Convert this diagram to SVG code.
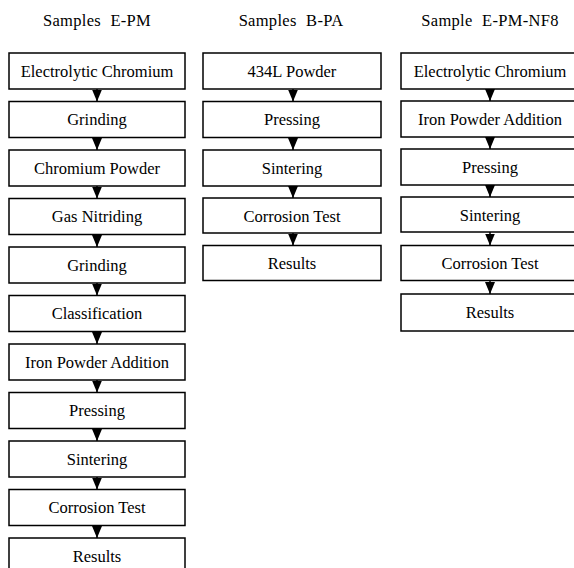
<svg xmlns="http://www.w3.org/2000/svg" width="574" height="568" viewBox="0 0 574 568">
<style>
.box{fill:#fff;stroke:#000;stroke-width:1.5}
.lbl{font-family:"Liberation Serif","Times New Roman",serif;font-size:16.5px;fill:#000;text-anchor:middle}
.ttl{font-family:"Liberation Serif","Times New Roman",serif;font-size:16.5px;fill:#000;text-anchor:middle;word-spacing:5px;letter-spacing:0.3px}
.con{stroke:#000;stroke-width:1.5;fill:none}
</style>
<defs>
<marker id="ah" viewBox="0 0 12 10" markerUnits="userSpaceOnUse" markerWidth="12" markerHeight="10" refX="12" refY="5" orient="auto">
<path d="M0,0 L12,5 L0,10 z" fill="#000"/>
</marker>
</defs>
<rect width="574" height="568" fill="#fff"/>
<g id="titles">
<text class="ttl" x="97" y="26">Samples E-PM</text>
<text class="ttl" x="291" y="26">Samples B-PA</text>
<text class="ttl" x="490" y="26">Sample E-PM-NF8</text>
</g>
<g id="col1">
<g id="c1n1"><rect class="box" x="9" y="53" width="176" height="36"/><text class="lbl" x="97" y="76.5">Electrolytic Chromium</text></g>
<g id="c1n2"><rect class="box" x="9" y="101.5" width="176" height="36"/><text class="lbl" x="97" y="125">Grinding</text></g>
<g id="c1n3"><rect class="box" x="9" y="150" width="176" height="36"/><text class="lbl" x="97" y="173.5">Chromium Powder</text></g>
<g id="c1n4"><rect class="box" x="9" y="198.5" width="176" height="36"/><text class="lbl" x="97" y="222">Gas Nitriding</text></g>
<g id="c1n5"><rect class="box" x="9" y="247" width="176" height="36"/><text class="lbl" x="97" y="270.5">Grinding</text></g>
<g id="c1n6"><rect class="box" x="9" y="295.5" width="176" height="36"/><text class="lbl" x="97" y="319">Classification</text></g>
<g id="c1n7"><rect class="box" x="9" y="344" width="176" height="36"/><text class="lbl" x="97" y="367.5">Iron Powder Addition</text></g>
<g id="c1n8"><rect class="box" x="9" y="392.5" width="176" height="36"/><text class="lbl" x="97" y="416">Pressing</text></g>
<g id="c1n9"><rect class="box" x="9" y="441" width="176" height="36"/><text class="lbl" x="97" y="464.5">Sintering</text></g>
<g id="c1n10"><rect class="box" x="9" y="489.5" width="176" height="36"/><text class="lbl" x="97" y="513">Corrosion Test</text></g>
<g id="c1n11"><rect class="box" x="9" y="538" width="176" height="36"/><text class="lbl" x="97" y="561.5">Results</text></g>
</g>
<g id="col2">
<g id="c2n1"><rect class="box" x="203" y="53" width="178" height="36"/><text class="lbl" x="292" y="76.5">434L Powder</text></g>
<g id="c2n2"><rect class="box" x="203" y="101.5" width="178" height="36"/><text class="lbl" x="292" y="125">Pressing</text></g>
<g id="c2n3"><rect class="box" x="203" y="150" width="178" height="36"/><text class="lbl" x="292" y="173.5">Sintering</text></g>
<g id="c2n4"><rect class="box" x="203" y="198" width="178" height="35"/><text class="lbl" x="292" y="221.5">Corrosion Test</text></g>
<g id="c2n5"><rect class="box" x="203" y="245.5" width="178" height="35"/><text class="lbl" x="292" y="269">Results</text></g>
</g>
<g id="col3">
<g id="c3n1"><rect class="box" x="401" y="53" width="180" height="36"/><text class="lbl" x="490" y="76.5">Electrolytic Chromium</text></g>
<g id="c3n2"><rect class="box" x="401" y="101" width="180" height="36"/><text class="lbl" x="490" y="124.5">Iron Powder Addition</text></g>
<g id="c3n3"><rect class="box" x="401" y="149" width="180" height="36"/><text class="lbl" x="490" y="172.5">Pressing</text></g>
<g id="c3n4"><rect class="box" x="401" y="197" width="180" height="35"/><text class="lbl" x="490" y="220.5">Sintering</text></g>
<g id="c3n5"><rect class="box" x="401" y="245.5" width="180" height="35"/><text class="lbl" x="490" y="269">Corrosion Test</text></g>
<g id="c3n6"><rect class="box" x="401" y="294" width="180" height="37"/><text class="lbl" x="490" y="317.5">Results</text></g>
</g>
<g id="connectors" class="con">
<path d="M97,89 V101.5" marker-end="url(#ah)"/>
<path d="M97,137.5 V150" marker-end="url(#ah)"/>
<path d="M97,186 V198.5" marker-end="url(#ah)"/>
<path d="M97,234.5 V247" marker-end="url(#ah)"/>
<path d="M97,283 V295.5" marker-end="url(#ah)"/>
<path d="M97,331.5 V344" marker-end="url(#ah)"/>
<path d="M97,380 V392.5" marker-end="url(#ah)"/>
<path d="M97,428.5 V441" marker-end="url(#ah)"/>
<path d="M97,477 V489.5" marker-end="url(#ah)"/>
<path d="M97,525.5 V538" marker-end="url(#ah)"/>
<path d="M293,89 V101.5" marker-end="url(#ah)"/>
<path d="M293,137.5 V150" marker-end="url(#ah)"/>
<path d="M293,186 V198" marker-end="url(#ah)"/>
<path d="M293,233 V245.5" marker-end="url(#ah)"/>
<path d="M490,89 V101" marker-end="url(#ah)"/>
<path d="M490,137 V149" marker-end="url(#ah)"/>
<path d="M490,185 V197" marker-end="url(#ah)"/>
<path d="M490,232 V245.5" marker-end="url(#ah)"/>
<path d="M490,280.5 V294" marker-end="url(#ah)"/>
</g>
</svg>
